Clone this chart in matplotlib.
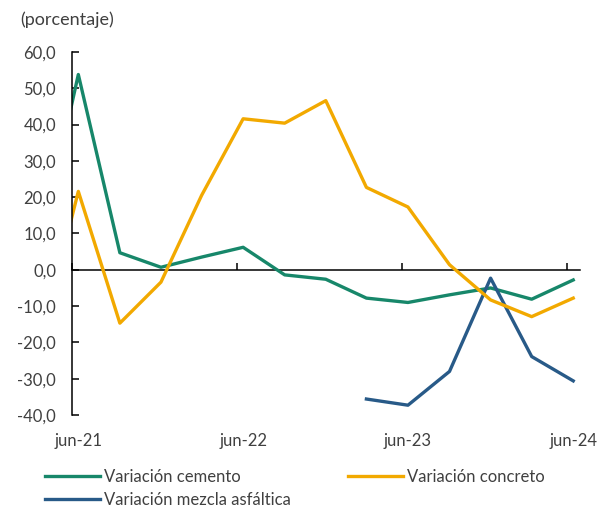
import matplotlib
matplotlib.use("Agg")
import matplotlib.pyplot as plt
import matplotlib.dates as mdates
import pandas as pd

# quarterly observations (first one falls just left of the visible range)
quarters = ["2021-03", "2021-06", "2021-09", "2021-12", "2022-03", "2022-06", "2022-09",
            "2022-12", "2023-03", "2023-06", "2023-09", "2023-12", "2024-03", "2024-06"]
cemento = [2.0, 53.8, 4.7, 0.7, 3.5, 6.2, -1.4, -2.6, -7.8, -9.0, -6.9, -5.0, -8.1, -2.8]
concreto = [-24.0, 21.6, -14.7, -3.4, 20.5, 41.6, 40.4, 46.6, 22.7, 17.3, 1.4, -8.3, -12.9, -7.8]
mezcla_quarters = ["2023-03", "2023-06", "2023-09", "2023-12", "2024-03", "2024-06"]
mezcla = [-35.6, -37.3, -28.0, -2.3, -23.9, -30.6]

tick_years = ["2021-06", "2022-06", "2023-06", "2024-06"]
tick_labels = ["jun-21", "jun-22", "jun-23", "jun-24"]
y_ticks = list(range(-40, 61, 10))

plt.rcParams["font.family"] = ["Lato", "DejaVu Sans"]
txt = "#404040"
fs = 12

def mid(months):
    return pd.to_datetime([m + "-15" for m in months])

fig = plt.figure(figsize=(6.03, 5.08), dpi=100)
ax = fig.add_axes([72 / 603, 1 - 415 / 508, (580 - 72) / 603, (415 - 52) / 508])

ax.plot(mid(quarters), cemento, color="#17876a", lw=2.4, label="Variación cemento")
ax.plot(mid(mezcla_quarters), mezcla, color="#285a88", lw=2.4, label="Variación mezcla asfáltica")
ax.plot(mid(quarters), concreto, color="#f2a900", lw=2.4, label="Variación concreto")

ax.set_xlim(pd.Timestamp("2021-06-01"), pd.Timestamp("2024-06-30"))
ax.set_ylim(-40, 60)

ax.set_yticks(y_ticks)
ax.set_yticklabels([f"{v:.1f}".replace(".", ",") for v in y_ticks])
ax.tick_params(axis="y", direction="in", length=5, width=1.1, pad=11.5,
               labelsize=fs, labelcolor=txt)

# month labels at the bottom, no marks
ax.set_xticks(mid(tick_years))
ax.set_xticklabels(tick_labels)
ax.tick_params(axis="x", length=0, pad=13, labelsize=fs, labelcolor=txt)

for s in ["top", "right", "bottom"]:
    ax.spines[s].set_visible(False)
ax.spines["left"].set_linewidth(1.1)

# zero line carrying the yearly tick marks
zero = ax.secondary_xaxis(0.4)
zero.set_xticks(mdates.date2num(pd.to_datetime([m + "-01" for m in tick_years])))
zero.set_xticklabels([])
zero.tick_params(axis="x", direction="in", length=5, width=1.1)
zero.spines["bottom"].set_linewidth(1.1)

fig.text(20 / 603, 1 - 20 / 508, "(porcentaje)", fontsize=13, color=txt, va="center")

fig.legend(loc="upper left", bbox_to_anchor=(45 / 603, 1 - 469 / 508), ncol=2,
           frameon=False, fontsize=fs, labelcolor=txt, handlelength=3.3,
           handletextpad=0.25, columnspacing=3.4, labelspacing=0.4,
           borderpad=0, borderaxespad=0)

fig.savefig("out.png", dpi=100)
